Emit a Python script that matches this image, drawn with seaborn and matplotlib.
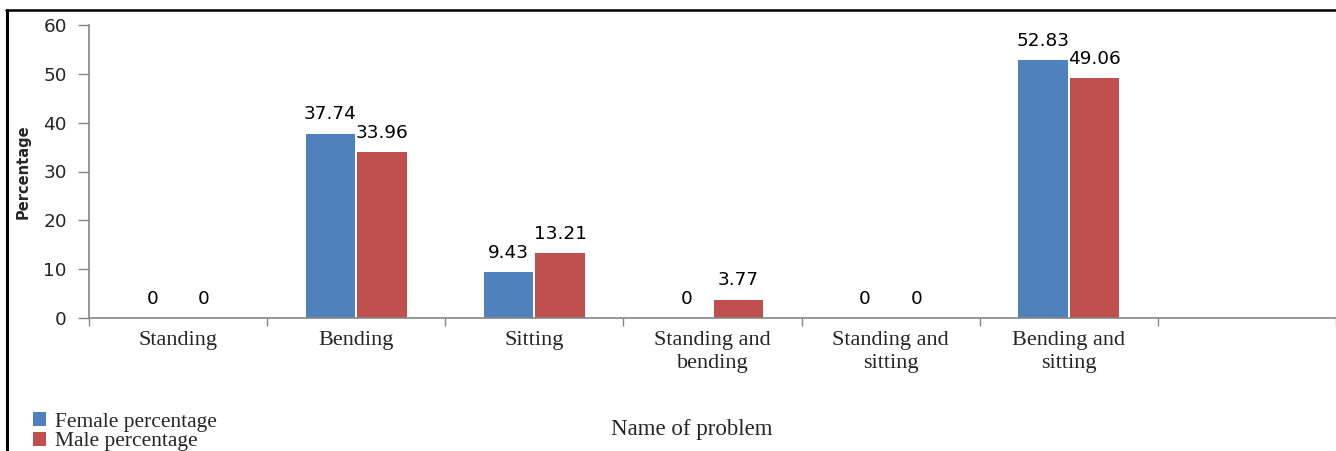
import numpy as np
import pandas as pd
import seaborn as sns
import matplotlib.pyplot as plt
from matplotlib.lines import Line2D

# ---- data ----
categories = ["Standing", "Bending", "Sitting", "Standing and\nbending",
              "Standing and\nsitting", "Bending and\nsitting", ""]
female = [0, 37.74, 9.43, 0, 0, 52.83]
male = [0, 33.96, 13.21, 3.77, 0, 49.06]
series = ["Female percentage", "Male percentage"]
colors = ["#4F81BD", "#C0504D"]
yticks = [0, 10, 20, 30, 40, 50, 60]
x_title = "Name of problem"
y_title = "Percentage"

sns.set_style("ticks")
plt.rcParams['font.family'] = ['DejaVu Sans']

n = len(female)
df = pd.DataFrame({
    x_title: categories[:n] * 2,
    y_title: female + male,
    "Series": [series[0]] * n + [series[1]] * n,
})

W, H = 1336, 451
fig = plt.figure(figsize=(W / 100, H / 100), dpi=100)
ax = fig.add_axes([89 / W, 1 - 318 / H, 1 - 89 / W, (318 - 25) / H])

sns.barplot(data=df, x=x_title, y=y_title, hue="Series", order=categories,
            hue_order=series, palette=colors, saturation=1, width=0.58,
            gap=0.04, linewidth=0, errorbar=None, ax=ax)

for c in ax.containers:
    ax.bar_label(c, fmt=lambda v: f"{v:g}", padding=7.5, fontsize=13.3,
                 color="black")

gray = "#868686"
ax.set_ylim(0, 60)
ax.set_yticks(yticks)
ax.set_xlim(-0.5, len(categories) - 0.5)
ax.set_xticks(np.arange(-0.5, len(categories), 1.0))
ax.set_xticklabels([])
ax.set_xticks(range(len(categories)), minor=True)
ax.set_xticklabels(categories, minor=True, family="Liberation Serif",
                   fontsize=16, linespacing=1.3)
ax.tick_params(axis="x", which="major", length=6, color=gray, width=1)
ax.tick_params(axis="x", which="minor", length=0, pad=9)
ax.tick_params(axis="y", length=8, color=gray, width=1, labelsize=13.3,
               pad=8)
for s in ["top", "right"]:
    ax.spines[s].set_visible(False)
for s in ["left", "bottom"]:
    ax.spines[s].set_color(gray)
    ax.spines[s].set_linewidth(1.2)

ax.set_ylabel(y_title, fontsize=10.5, fontweight="bold", labelpad=9)
ax.set_xlabel(x_title, family="Liberation Serif", fontsize=16.5)
ax.xaxis.set_label_coords((692 - 89) / (W - 89), -0.345)

sns.move_legend(ax, "upper left", bbox_to_anchor=(33 / W, 1 - 412 / H),
                bbox_transform=fig.transFigure, frameon=False, title=None,
                prop={"family": "Liberation Serif", "size": 15.5},
                handlelength=0.62, handleheight=0.62, handletextpad=0.4,
                labelspacing=0.0, borderpad=0, borderaxespad=0)

# figure frame (left and top black border)
fig.add_artist(Line2D([7 / W, 7 / W], [0, 1 - 10 / H], transform=fig.transFigure,
                      color="black", lw=2.2))
fig.add_artist(Line2D([6 / W, 1], [1 - 10 / H, 1 - 10 / H], transform=fig.transFigure,
                      color="black", lw=1.8))

fig.savefig("out.png", dpi=100)
